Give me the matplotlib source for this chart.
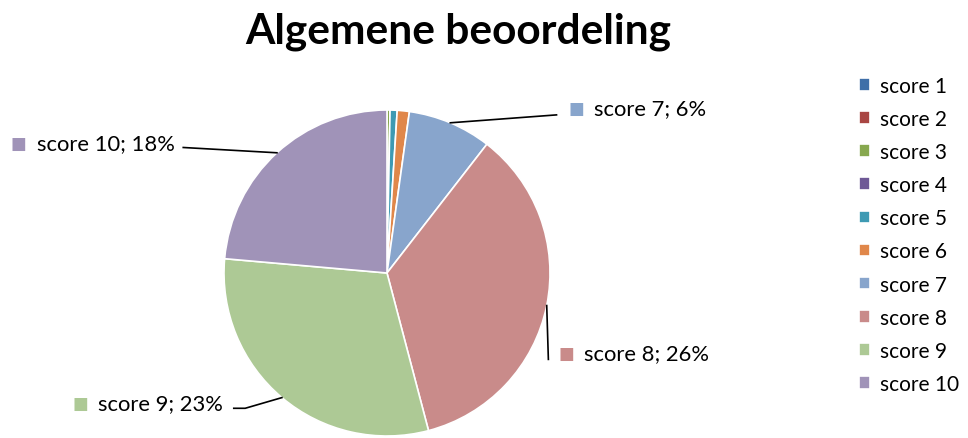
import numpy as np
import matplotlib
matplotlib.use('Agg')
import matplotlib.pyplot as plt

plt.rcParams['font.family'] = ['Lato', 'DejaVu Sans']

# data
categories = ['score 1', 'score 2', 'score 3', 'score 4', 'score 5',
              'score 6', 'score 7', 'score 8', 'score 9', 'score 10']
shares = [0.0, 0.0, 0.3, 0.0, 0.7, 1.2, 8.3, 35.4, 30.5, 23.6]
colors = ['#3F6FA8', '#A94643', '#87A84F', '#6E5896', '#3E9AB3',
          '#E0874A', '#88A5CC', '#C98B8A', '#ADC995', '#A093B8']

# data labels as printed on the chart
label_idx = [6, 7, 8, 9]
label_text = ['score 7; 6%', 'score 8; 26%', 'score 9; 23%', 'score 10; 18%']
# where each label sits (pie radius units)
label_pos = [(1.16, 1.01), (1.10, -0.49), (-1.88, -0.80), (-2.26, 0.80)]
leader_end = [[(1.04, 0.97)], [(0.99, -0.53)],
              [(-0.87, -0.83), (-0.94, -0.83)], [(-1.25, 0.77)]]

fig = plt.figure(figsize=(9.68, 4.39), dpi=100)
fig.text(0.473, 0.928, 'Algemene beoordeling', ha='center', va='center',
         fontsize=30.5, fontweight='bold')

ax = fig.add_axes([224 / 968, 2 / 439, 326 / 968, 326 / 439])
wedges, _ = ax.pie(shares, colors=colors, startangle=90, counterclock=False,
                   wedgeprops=dict(edgecolor='white', linewidth=1.2))
ax.set_xlim(-1, 1)
ax.set_ylim(-1, 1)
ax.set_aspect('equal')

for i, txt, (lx, ly), ends in zip(label_idx, label_text, label_pos, leader_end):
    w = wedges[i]
    mid = np.deg2rad((w.theta1 + w.theta2) / 2)
    xs = [np.cos(mid)] + [p[0] for p in ends]
    ys = [np.sin(mid)] + [p[1] for p in ends]
    ax.plot(xs, ys, color='black', lw=1.2, clip_on=False)
    ax.text(lx, ly, '\u25A0', color=colors[i], fontsize=12, ha='center',
            va='center', family='DejaVu Sans', clip_on=False)
    ax.text(lx + 0.11, ly, txt, fontsize=15.8, ha='left', va='center',
            clip_on=False)

fig.legend(wedges, categories, loc='upper left',
           bbox_to_anchor=(840 / 968, 1 - 58 / 439), frameon=False,
           fontsize=15, handlelength=0.55, handleheight=0.55,
           handletextpad=0.45, labelspacing=0.63)

fig.savefig('out.png', dpi=100)
